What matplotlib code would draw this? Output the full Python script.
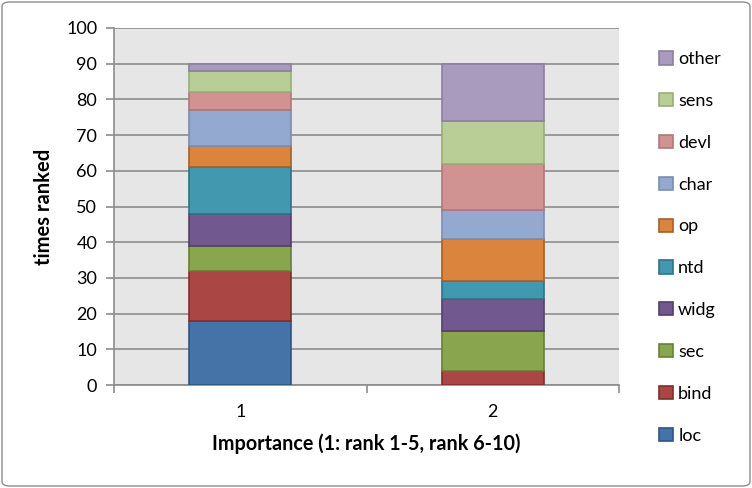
import matplotlib.pyplot as plt
from matplotlib.patches import FancyBboxPatch
import numpy as np

groups = ['1', '2']
series = ['loc', 'bind', 'sec', 'widg', 'ntd', 'op', 'char', 'devl', 'sens', 'other']
loc = [18, 0]
bind = [14, 4]
sec = [7, 11]
widg = [9, 9]
ntd = [13, 5]
op = [6, 12]
char = [10, 8]
devl = [5, 13]
sens = [6, 12]
other = [2, 16]
values = [loc, bind, sec, widg, ntd, op, char, devl, sens, other]

colors = ['#4572A7', '#AA4643', '#89A54E', '#71588F', '#4198AF',
          '#DB843D', '#93A9CF', '#D19392', '#B9CD96', '#A99BBD']
edges = ['#2F5682', '#7E2F2C', '#66803A', '#52406A', '#2E7386',
         '#A95F25', '#7B8DB0', '#B07877', '#98AD77', '#8C80A0']

plt.rcParams['font.family'] = ['Lato', 'DejaVu Sans']

fig = plt.figure(figsize=(7.52, 4.88), dpi=100)
ax = fig.add_axes([114 / 752, 1 - 385 / 488, 505 / 752, 357 / 488])
ax.set_facecolor('#E6E6E6')

x = np.arange(len(groups))
bottom = np.zeros(len(groups))
for name, vals, c, e in zip(series, values, colors, edges):
    ax.bar(x, vals, 0.404, bottom=bottom, color=c, edgecolor=e, linewidth=1.2,
           label=name, zorder=3)
    bottom += np.array(vals)

ax.set_xlim(-0.5, 1.5)
ax.set_ylim(0, 100)
ax.set_yticks(range(0, 101, 10))
ax.yaxis.grid(True, color='#8C8C8C', linewidth=1.2, zorder=0)
ax.set_xticks([-0.5, 0.5, 1.5], minor=False)
ax.set_xticklabels([])
ax.set_xticks(x, minor=True)
ax.set_xticklabels(groups, minor=True)
ax.tick_params(axis='x', which='major', length=6, color='#8C8C8C', width=1.2, direction='out')
ax.tick_params(axis='x', which='minor', length=0, labelsize=13, pad=14)
ax.tick_params(axis='y', length=6, color='#8C8C8C', width=1.2, labelsize=13, pad=6)
for s in ['top', 'right']:
    ax.spines[s].set_visible(False)
for s in ['left', 'bottom']:
    ax.spines[s].set_color('#8C8C8C')
    ax.spines[s].set_linewidth(1.2)

ax.set_ylabel('times ranked', fontsize=14.5, fontweight='bold', labelpad=9)
ax.set_xlabel('Importance (1: rank 1-5, rank 6-10)', fontsize=14.2, fontweight='bold', labelpad=9)

handles, labels = ax.get_legend_handles_labels()
ax.legend(handles[::-1], labels[::-1], loc='upper left', bbox_to_anchor=(652 / 752, 1 - 44 / 488),
          bbox_transform=fig.transFigure, frameon=False, fontsize=13,
          handlelength=0.75, handleheight=0.75, handletextpad=0.3, labelspacing=1.43,
          borderaxespad=0)

border = FancyBboxPatch((2 / 752, 2 / 488), 748 / 752, 484 / 488,
                        boxstyle='round,pad=0,rounding_size=0.01',
                        transform=fig.transFigure, facecolor='none',
                        edgecolor='#8C8C8C', linewidth=1.0)
fig.patches.append(border)

plt.savefig('out.png', dpi=100)
